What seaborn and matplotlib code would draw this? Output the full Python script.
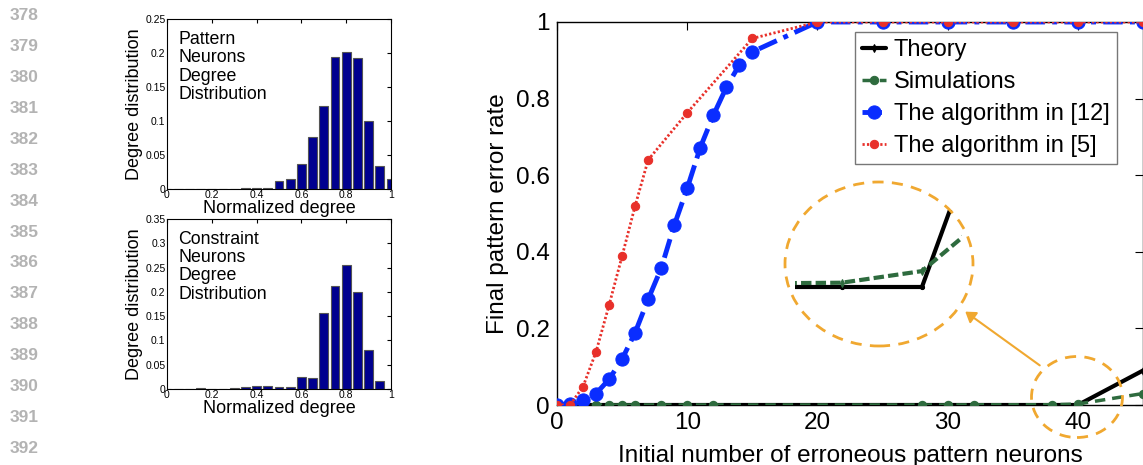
import matplotlib
matplotlib.use('Agg')
import matplotlib.pyplot as plt
import seaborn as sns
from matplotlib.patches import Ellipse
from matplotlib.ticker import FuncFormatter

sns.set_style('white')
plt.rcParams['font.family'] = ['Liberation Sans', 'DejaVu Sans']
plt.rcParams.update({'text.color': 'black', 'axes.labelcolor': 'black',
                     'xtick.color': 'black', 'ytick.color': 'black'})

# line numbers of the page margin
line_numbers = list(range(378, 393))

# degree histograms (bin centres every 0.05)
degree_bins = [0.0, 0.05, 0.1, 0.15, 0.2, 0.25, 0.3, 0.35, 0.4, 0.45, 0.5,
               0.55, 0.6, 0.65, 0.7, 0.75, 0.8, 0.85, 0.9, 0.95, 1.0]
pattern_degree = [0.0, 0.0005, 0.0005, 0.0005, 0.0005, 0.0005, 0.0005, 0.002, 0.001, 0.001, 0.012,
                  0.015, 0.037, 0.077, 0.122, 0.194, 0.201, 0.193, 0.100, 0.034, 0.015]
constraint_degree = [0.0, 0.001, 0.0005, 0.002, 0.001, 0.0005, 0.002, 0.004, 0.006, 0.006, 0.004,
                     0.004, 0.025, 0.023, 0.156, 0.212, 0.255, 0.199, 0.081, 0.016, 0.0]

# error rate curves
theory_x = [0, 1, 2, 3, 4, 5, 6, 8, 10, 12, 28, 30, 32, 38, 40, 45]
theory_y = [0, 0, 0, 0, 0, 0, 0, 0, 0, 0, 0, 0, 0, 0, 0, 0.09]
sim_x = [0, 1, 2, 3, 4, 5, 6, 8, 10, 12, 28, 30, 32, 38, 40, 45]
sim_y = [0, 0, 0, 0, 0, 0, 0, 0, 0, 0, 0, 0, 0.0004, 0.0007, 0.0026, 0.03]
alg12_x = [0, 1, 2, 3, 4, 5, 6, 7, 8, 9, 10, 11, 12, 13, 14, 15, 20, 25, 30, 35, 40, 45]
alg12_y = [0, 0.003, 0.013, 0.03, 0.067, 0.12, 0.189, 0.276, 0.357, 0.469, 0.566,
           0.672, 0.756, 0.829, 0.888, 0.922, 1.0, 1.0, 1.0, 1.0, 1.0, 1.0]
alg5_x = [0, 1, 2, 3, 4, 5, 6, 7, 10, 15, 20, 25, 30, 35, 40, 45]
alg5_y = [0, 0, 0.048, 0.139, 0.261, 0.389, 0.52, 0.64, 0.763, 0.957, 1.0, 1.0, 1.0, 1.0, 1.0, 1.0]

W, H = 1143, 465
fig = plt.figure(figsize=(W / 100, H / 100), dpi=100)
fmt = FuncFormatter(lambda v, p: '%g' % round(v, 3))

orange = '#f0a830'
navy = '#00008f'


def hist_panel(rect, values, ymax, note):
    ax = fig.add_axes(rect)
    sns.barplot(x=degree_bins, y=values, native_scale=True, width=0.8, color=navy,
                saturation=1, edgecolor='#555555', linewidth=0.8, errorbar=None, ax=ax)
    ax.set_xlim(0, 1)
    ax.set_ylim(0, ymax)
    ax.set_xticks([0, 0.2, 0.4, 0.6, 0.8, 1.0])
    ax.set_yticks([i * 0.05 for i in range(int(round(ymax / 0.05)) + 1)])
    ax.xaxis.set_major_formatter(fmt)
    ax.yaxis.set_major_formatter(fmt)
    ax.tick_params(direction='in', top=True, right=True, length=3, labelsize=7.5, pad=1)
    for s in ax.spines.values():
        s.set_color('black')
        s.set_linewidth(0.8)
    ax.set_xlabel('Normalized degree', fontsize=13, labelpad=0)
    ax.set_ylabel('Degree distribution', fontsize=13, labelpad=2)
    ax.text(0.05, 0.93, note, transform=ax.transAxes, fontsize=12.8, va='top', ha='left',
            linespacing=1.1)
    return ax


hist_panel([167 / W, 1 - 189 / H, 224 / W, 170 / H], pattern_degree, 0.25,
           'Pattern\nNeurons\nDegree\nDistribution')
hist_panel([167 / W, 1 - 389 / H, 224 / W, 170 / H], constraint_degree, 0.35,
           'Constraint\nNeurons\nDegree\nDistribution')

# main panel
ax = fig.add_axes([557 / W, 1 - 405 / H, (W - 557) / W, (405 - 22) / H])
sns.lineplot(x=theory_x, y=theory_y, ax=ax, color='black', lw=3, marker='d', ms=4,
             mec='black', label='Theory', sort=False, zorder=3)
sns.lineplot(x=sim_x, y=sim_y, ax=ax, color='#2e6b3e', lw=2.5, linestyle=(0, (3, 2)),
             marker='o', ms=6, mec='#2e6b3e', label='Simulations', sort=False, zorder=4)
sns.lineplot(x=alg12_x, y=alg12_y, ax=ax, color='#0a2dff', lw=3.5, linestyle=(0, (4, 1.5, 1, 1.5)),
             marker='o', ms=9.5, mec='#0a2dff', label='The algorithm in [12]', sort=False, zorder=5)
sns.lineplot(x=alg5_x, y=alg5_y, ax=ax, color='#e8302a', lw=2, linestyle=(0, (0.8, 0.8)),
             marker='o', ms=6, mec='#e8302a', label='The algorithm in [5]', sort=False, zorder=6)
ax.set_xlim(0, 45)
ax.set_ylim(0, 1)
ax.set_xticks([0, 10, 20, 30, 40])
ax.set_yticks([0, 0.2, 0.4, 0.6, 0.8, 1.0])
ax.yaxis.set_major_formatter(fmt)
ax.tick_params(direction='in', top=True, right=True, length=6, labelsize=17.5, pad=5)
for s in ax.spines.values():
    s.set_color('black')
    s.set_linewidth(1)
ax.set_xlabel('Initial number of erroneous pattern neurons', fontsize=17.5, labelpad=8)
ax.set_ylabel('Final pattern error rate', fontsize=17.5, labelpad=5)
leg = ax.legend(loc='upper left', bbox_to_anchor=(855 / W, 1 - 32 / H),
                bbox_transform=fig.transFigure, fontsize=17, frameon=True, fancybox=False,
                edgecolor='#555555', handlelength=1.0, handletextpad=0.35, labelspacing=0.42,
                borderpad=0.3, borderaxespad=0)
leg.get_frame().set_linewidth(1)

# magnified view of the region around x=40
inset = fig.add_axes([795 / W, 1 - 292 / H, (962 - 795) / W, (292 - 210) / H])
sns.lineplot(x=theory_x, y=theory_y, ax=inset, color='black', lw=3, marker='o', ms=3,
             mec='black', sort=False, legend=False)
sns.lineplot(x=sim_x, y=sim_y, ax=inset, color='#2e6b3e', lw=3, linestyle=(0, (2.5, 1)),
             marker='d', ms=4, mec='#2e6b3e', sort=False, legend=False)
inset.set_xlim(36.83, 41.0)
inset.set_ylim(-0.00082, 0.0126)
inset.axis('off')
inset.patch.set_alpha(0)

fig.add_artist(Ellipse((879 / W, 1 - 264 / H), 188 / W, 164 / H, transform=fig.transFigure,
                       fill=False, ec=orange, lw=2, ls=(0, (4, 3))))
fig.add_artist(Ellipse((1077 / W, 1 - 397 / H), 91 / W, 81 / H, transform=fig.transFigure,
                       fill=False, ec=orange, lw=2, ls=(0, (4, 3)), clip_on=False))
fig.add_artist(matplotlib.patches.FancyArrowPatch(
    (1042 / W, 1 - 367 / H), (963 / W, 1 - 310 / H), transform=fig.transFigure,
    arrowstyle='-|>,head_length=6,head_width=4', color=orange, lw=1.5))

for i, n in enumerate(line_numbers):
    fig.text(10 / W, 1 - (16 + 30.86 * i) / H, str(n), fontsize=12.5, color='#b3b3b3',
             weight='bold', ha='left', va='center')

fig.savefig('out.png', dpi=100)
